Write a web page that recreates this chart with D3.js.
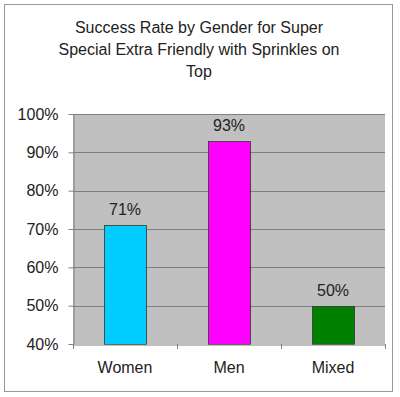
<!DOCTYPE html>
<html>
<head>
<meta charset="utf-8">
<script src="https://cdn.jsdelivr.net/npm/d3@7"></script>
<style>
  body { margin: 0; background: #fff; }
  text { font-family: "Liberation Sans", Arial, sans-serif; fill: #222; }
</style>
</head>
<body>
<script>

// chart data
var categories = ["Women", "Men", "Mixed"];
var rates = [0.71, 0.93, 0.50];
var barColors = ["#00ccff", "#ff00ff", "#008000"];
var yTicks = [0.4, 0.5, 0.6, 0.7, 0.8, 0.9, 1.0];
var titleLines = ["Success Rate by Gender for Super", "Special Extra Friendly with Sprinkles on", "Top"];

var width = 400, height = 397;
var plot = {left: 73, right: 385, top: 114, bottom: 344};

var svg = d3.select("body")
  .append("svg")
    .attr("width", width)
    .attr("height", height);

// outer chart frame
svg.append("rect")
  .attr("x", 4.5)
  .attr("y", 4.5)
  .attr("width", 388)
  .attr("height", 387)
  .attr("fill", "#fff")
  .attr("stroke", "#999");

// title
svg.selectAll(".title")
  .data(titleLines)
  .enter()
  .append("text")
    .attr("class", "title")
    .attr("x", 199)
    .attr("y", function(d, i) { return 33 + i * 22; })
    .attr("text-anchor", "middle")
    .attr("font-size", "16px")
    .text(function(d) { return d; });

// scales
var x = d3.scaleBand()
  .domain(categories)
  .range([plot.left, plot.right])
  .paddingInner(0.6)
  .paddingOuter(0.3);

var y = d3.scaleLinear()
  .domain([0.4, 1.0])
  .range([plot.bottom, plot.top]);

// plot area background
svg.append("rect")
  .attr("x", plot.left)
  .attr("y", plot.top)
  .attr("width", plot.right - plot.left)
  .attr("height", plot.bottom - plot.top)
  .attr("fill", "#c0c0c0");

// gridlines
svg.selectAll(".grid")
  .data(yTicks.slice(1))
  .enter()
  .append("line")
    .attr("class", "grid")
    .attr("x1", plot.left)
    .attr("x2", plot.right)
    .attr("y1", function(d) { return Math.round(y(d)) + 0.5; })
    .attr("y2", function(d) { return Math.round(y(d)) + 0.5; })
    .attr("stroke", "#808080");

// bars
svg.selectAll(".bar")
  .data(rates)
  .enter()
  .append("rect")
    .attr("class", "bar")
    .attr("x", function(d, i) { return Math.round(x(categories[i])) + 0.5; })
    .attr("y", function(d) { return Math.round(y(d)) + 0.5; })
    .attr("width", Math.round(x.bandwidth()))
    .attr("height", function(d) { return Math.round(plot.bottom - y(d)); })
    .attr("fill", function(d, i) { return barColors[i]; })
    .attr("stroke", "#333")
    .attr("stroke-width", 0.8);

// value labels
svg.selectAll(".value")
  .data(rates)
  .enter()
  .append("text")
    .attr("class", "value")
    .attr("x", function(d, i) { return x(categories[i]) + x.bandwidth() / 2; })
    .attr("y", function(d) { return y(d) - 10; })
    .attr("text-anchor", "middle")
    .attr("font-size", "16px")
    .text(function(d) { return d3.format(".0%")(d); });

// y axis
var yAxis = d3.axisLeft(y)
  .tickValues(yTicks)
  .tickFormat(d3.format(".0%"))
  .tickSize(5)
  .tickSizeOuter(0)
  .tickPadding(10);

var gy = svg.append("g")
  .attr("transform", "translate(" + (plot.left + 0.5) + ",0)")
  .call(yAxis);
gy.selectAll("path, line").attr("stroke", "#808080");
gy.selectAll("text")
  .attr("font-size", "16px")
  .attr("font-family", "Liberation Sans, Arial, sans-serif")
  .attr("fill", "#222");

// x axis with labels only
var xAxis = d3.axisBottom(x)
  .tickSize(0)
  .tickPadding(17);

var gx = svg.append("g")
  .attr("transform", "translate(0," + (plot.bottom + 0.5) + ")")
  .call(xAxis);
gx.select(".domain").attr("stroke", "#808080");
gx.selectAll("text")
  .attr("font-size", "16px")
  .attr("font-family", "Liberation Sans, Arial, sans-serif")
  .attr("fill", "#222");

// category boundary ticks
var bounds = d3.range(categories.length + 1).map(function(i) {
  return x.range()[0] + i * x.step();
});
svg.selectAll(".btick")
  .data(bounds)
  .enter()
  .append("line")
    .attr("class", "btick")
    .attr("x1", function(d) { return Math.round(d) + 0.5; })
    .attr("x2", function(d) { return Math.round(d) + 0.5; })
    .attr("y1", plot.bottom)
    .attr("y2", plot.bottom + 5)
    .attr("stroke", "#808080");

</script>
</body>
</html>
